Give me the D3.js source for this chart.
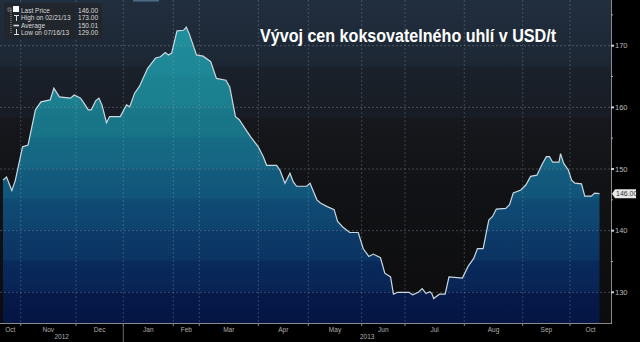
<!DOCTYPE html>
<html>
<head>
<meta charset="utf-8">
<script src="https://cdn.jsdelivr.net/npm/d3@7"></script>
<style>
  body { margin: 0; background: #000; }
  svg { display: block; }
  text { font-family: "Liberation Sans", Arial, sans-serif; }
</style>
</head>
<body>
<div id="chart"></div>
<script>
// price series (USD/t)
var dates = [
  "2012-10-22","2012-10-24","2012-10-27","2012-10-29","2012-11-02","2012-11-05","2012-11-09","2012-11-12",
  "2012-11-17","2012-11-19","2012-11-22","2012-11-28","2012-11-30","2012-12-04","2012-12-07","2012-12-09",
  "2012-12-11","2012-12-14","2012-12-16","2012-12-18","2012-12-21","2012-12-23","2012-12-30","2013-01-03",
  "2013-01-05","2013-01-08","2013-01-11","2013-01-16","2013-01-21","2013-01-24","2013-01-27","2013-01-29",
  "2013-01-31","2013-02-05","2013-02-12","2013-02-15","2013-02-18","2013-02-26","2013-03-03","2013-03-07",
  "2013-03-10","2013-03-15","2013-03-17","2013-03-20","2013-03-22","2013-03-25","2013-03-28","2013-03-30",
  "2013-04-01","2013-04-04","2013-04-06","2013-04-12","2013-04-14","2013-04-17","2013-04-20","2013-04-22",
  "2013-04-24","2013-04-30","2013-05-02","2013-05-06","2013-05-08","2013-05-12","2013-05-16","2013-05-18",
  "2013-05-21","2013-05-25","2013-05-30","2013-06-02","2013-06-06","2013-06-09","2013-06-14","2013-06-17",
  "2013-06-21","2013-06-23","2013-06-26","2013-07-03","2013-07-05","2013-07-08","2013-07-10","2013-07-12",
  "2013-07-14","2013-07-15","2013-07-16","2013-07-19","2013-07-22","2013-07-24","2013-07-31","2013-08-03",
  "2013-08-06","2013-08-08","2013-08-11","2013-08-14","2013-08-16","2013-08-18","2013-08-23","2013-08-25",
  "2013-08-27","2013-08-31","2013-09-03","2013-09-06","2013-09-10","2013-09-13","2013-09-16","2013-09-18",
  "2013-09-20","2013-09-24","2013-09-25","2013-09-27","2013-09-30","2013-10-02","2013-10-04","2013-10-08",
  "2013-10-10","2013-10-14","2013-10-16","2013-10-19"
];
var prices = [
  148.2,148.7,146.5,148.2,153.6,153.9,159.6,160.9,
  161.2,163.1,161.7,161.5,162.0,161.5,160.4,159.6,
  159.6,161.1,161.5,160.4,157.5,158.5,158.5,160.4,
  160.1,162.3,163.4,166.3,168.0,168.2,168.9,168.5,
  168.8,172.4,172.5,173.0,172.0,168.5,168.3,167.4,
  164.7,164.4,163.3,158.5,158.0,156.6,155.2,154.4,
  153.6,152.0,150.6,150.6,149.8,147.7,149.3,147.9,
  147.2,147.2,147.7,145.0,144.5,143.9,143.4,141.5,
  140.6,139.7,139.7,137.1,135.8,136.2,135.6,133.1,
  132.5,129.7,130.0,130.0,129.6,130.0,130.6,129.8,
  130.1,129.8,129.0,129.7,129.7,132.5,132.3,134.2,
  135.5,137.1,137.1,141.7,142.3,143.5,143.6,144.2,
  146.1,146.6,147.4,148.8,149.0,150.6,152.0,152.0,
  151.1,151.1,152.5,150.9,149.8,148.2,147.7,147.6,
  145.6,145.6,146.1,146.0
];

var monthStarts = ["2012-10-01","2012-11-01","2012-12-01","2013-01-01","2013-02-01","2013-03-01","2013-04-01",
  "2013-05-01","2013-06-01","2013-07-01","2013-08-01","2013-09-01","2013-10-01","2013-10-26"];
var monthLabels = ["Oct","Nov","Dec","Jan","Feb","Mar","Apr","May","Jun","Jul","Aug","Sep","Oct"];
var yearLabels = ["2012","2013"];
var yTicks = [130, 140, 150, 160, 170];
var yMinorTicks = [135, 145, 155, 165, 175];

var legendNames = ["Last Price", "High on 02/21/13", "Average", "Low on 07/16/13"];
var legendValues = ["146.00", "173.00", "150.01", "129.00"];
var lastLabel = "146.00";
var title = "Vývoj cen koksovatelného uhlí v USD/t";

var width = 640, height = 342;
var plotW = 611, plotH = 323;
// the source chart's month widths are uneven, so the time scale is piecewise
var monthEdgeX = [-34.3, 20.7, 76, 123.3, 173.3, 199.3, 258.3, 308.3, 361.7, 405, 464.3, 522.7, 570, 611];

var parse = d3.timeParse("%Y-%m-%d");
var data = dates.map(function(d, i){ return {date: parse(d), value: prices[i]}; });
var edges = monthStarts.map(parse);

var x = d3.scaleTime().domain(edges).range(monthEdgeX);
var y = d3.scaleLinear().domain([130, 170]).range([292.3, 45.7]);

var svg = d3.select('#chart').append('svg')
    .attr('width', width)
    .attr('height', height);

var defs = svg.append('defs');

var bg = defs.append('linearGradient')
    .attr('id', 'bg').attr('gradientUnits', 'userSpaceOnUse')
    .attr('x1', 0).attr('y1', 0).attr('x2', 0).attr('y2', plotH);
[[0, '#212e3e'], [0.2, '#1d2734'], [0.21, '#1a212b'], [0.36, '#181c24'], [0.37, '#16181d'],
 [0.55, '#121316'], [1, '#0c0c0e']].forEach(function(s){
  bg.append('stop').attr('offset', s[0]).attr('stop-color', s[1]);
});

// banded fill, one band per 5 USD like the Bloomberg original
var bandColors = ['#20909e', '#1f8a99', '#1c8393', '#197889', '#166b84', '#135c7e',
                  '#0f4b74', '#0c3a68', '#092a5c', '#061a4a'];
var fill = defs.append('linearGradient')
    .attr('id', 'fill').attr('gradientUnits', 'userSpaceOnUse')
    .attr('x1', 0).attr('y1', 0).attr('x2', 0).attr('y2', plotH);
bandColors.forEach(function(c, i){
  var top = i === 0 ? 0 : y(175 - i * 5);
  var bottom = Math.min(plotH, y(170 - i * 5));
  var next = bandColors[i + 1] || '#040e3a';
  fill.append('stop').attr('offset', top / plotH).attr('stop-color', c);
  fill.append('stop').attr('offset', (bottom - 2) / plotH)
      .attr('stop-color', d3.interpolateRgb(c, next)(0.4));
});

svg.append('rect').attr('width', width).attr('height', height).attr('fill', '#000');
svg.append('rect').attr('width', plotW).attr('height', plotH).attr('fill', 'url(#bg)');
svg.append('rect').attr('x', 133).attr('y', 0).attr('width', 26).attr('height', 1.5).attr('fill', '#4a6a86');

var area = d3.area()
    .x(function(d){ return x(d.date); })
    .y0(plotH)
    .y1(function(d){ return y(d.value); });

var line = d3.line()
    .x(function(d){ return x(d.date); })
    .y(function(d){ return y(d.value); });

svg.append('path').datum(data)
    .attr('d', area)
    .attr('fill', 'url(#fill)');

// grid
svg.append('g').selectAll('line').data(yTicks).enter().append('line')
    .attr('x1', 0).attr('x2', plotW)
    .attr('y1', function(d){ return y(d); }).attr('y2', function(d){ return y(d); })
    .attr('stroke', '#9aa8b4').attr('stroke-opacity', 0.35)
    .attr('stroke-dasharray', '2,2');

svg.append('g').selectAll('line').data(edges.slice(1, -1)).enter().append('line')
    .attr('x1', function(d){ return x(d); }).attr('x2', function(d){ return x(d); })
    .attr('y1', 0).attr('y2', plotH)
    .attr('stroke', '#9aa8b4').attr('stroke-opacity', 0.3)
    .attr('stroke-dasharray', '2,2');

svg.append('path').datum(data)
    .attr('d', line)
    .attr('fill', 'none')
    .attr('stroke', '#cbd8e0')
    .attr('stroke-width', 1.2);

// right axis
var yAxis = svg.append('g');
yAxis.append('line').attr('x1', plotW + 0.5).attr('x2', plotW + 0.5).attr('y1', 0).attr('y2', plotH + 1)
    .attr('stroke', '#8a8a8a');
yAxis.selectAll('rect.tick').data(yTicks).enter().append('rect')
    .attr('x', plotW).attr('y', function(d){ return y(d) - 1; })
    .attr('width', 3).attr('height', 2).attr('fill', '#cfcfcf');
yAxis.selectAll('rect.minor').data(yMinorTicks).enter().append('rect')
    .attr('x', plotW).attr('y', function(d){ return y(d) - 0.5; })
    .attr('width', 2).attr('height', 1).attr('fill', '#aaa');
yAxis.selectAll('text').data(yTicks).enter().append('text')
    .attr('x', plotW + 4).attr('y', function(d){ return y(d) + 2.5; })
    .attr('font-size', 7.5).attr('fill', '#b8b8b8')
    .text(function(d){ return d; });

// last price tag
var last = data[data.length - 1];
var tag = svg.append('g').attr('transform', 'translate(' + (plotW + 1) + ',' + y(last.value) + ')');
tag.append('path').attr('d', 'M0,0 L3,-4.5 L24,-4.5 L24,4.5 L3,4.5 Z').attr('fill', '#e8e8e8');
tag.append('text').attr('x', 4).attr('y', 2.6).attr('font-size', 7).attr('fill', '#333').text(lastLabel);

// bottom axis
var xAxis = svg.append('g');
xAxis.append('line').attr('x1', 0).attr('x2', plotW + 1).attr('y1', plotH + 0.5).attr('y2', plotH + 0.5)
    .attr('stroke', '#8a8a8a');
xAxis.selectAll('line.tick').data(edges.slice(1, -1)).enter().append('line')
    .attr('x1', function(d){ return x(d); }).attr('x2', function(d){ return x(d); })
    .attr('y1', plotH).attr('y2', plotH + 3)
    .attr('stroke', '#8a8a8a');
var yearStart = edges[3];
xAxis.append('line')
    .attr('x1', x(yearStart)).attr('x2', x(yearStart))
    .attr('y1', plotH).attr('y2', height)
    .attr('stroke', '#6a6a6a');

xAxis.selectAll('text.month').data(monthLabels).enter().append('text')
    .attr('x', function(d, i){
      var a = Math.max(0, x(edges[i])), b = Math.min(plotW, x(edges[i + 1]));
      return (a + b) / 2;
    })
    .attr('y', plotH + 8.5)
    .attr('text-anchor', 'middle').attr('font-size', 6.5).attr('fill', '#b0b0b0')
    .text(function(d){ return d; });

var yearSpans = [[0, x(yearStart)], [x(yearStart), plotW]];
xAxis.selectAll('text.year').data(yearLabels).enter().append('text')
    .attr('x', function(d, i){ return (yearSpans[i][0] + yearSpans[i][1]) / 2; })
    .attr('y', plotH + 16)
    .attr('text-anchor', 'middle').attr('font-size', 6.5).attr('fill', '#b0b0b0')
    .text(function(d){ return d; });

// legend
var lg = svg.append('g');
lg.append('rect').attr('x', 4).attr('y', 3).attr('width', 98).attr('height', 36)
    .attr('fill', '#22262d').attr('fill-opacity', 0.92);
lg.append('line').attr('x1', 11).attr('x2', 11).attr('y1', 10).attr('y2', 34)
    .attr('stroke', '#999').attr('stroke-dasharray', '1,1');
lg.append('rect').attr('x', 8).attr('y', 8).attr('width', 3).attr('height', 3)
    .attr('fill', 'none').attr('stroke', '#aaa').attr('stroke-width', 0.6);
lg.append('rect').attr('x', 13).attr('y', 6).attr('width', 6).attr('height', 6).attr('fill', '#fff');
lg.append('path').attr('d', 'M14,15.5 H19 M16.5,15.5 V21').attr('stroke', '#ddd').attr('stroke-width', 1);
lg.append('path').attr('d', 'M13.5,25.5 H19').attr('stroke', '#ddd').attr('stroke-width', 1.6);
lg.append('path').attr('d', 'M16.5,29 V34.5 M14,34.5 H19').attr('stroke', '#ddd').attr('stroke-width', 1);
lg.selectAll('text.name').data(legendNames).enter().append('text')
    .attr('x', 21).attr('y', function(d, i){ return 13 + i * 7.4; })
    .attr('font-size', 6.5).attr('fill', '#d8d8d8')
    .text(function(d){ return d; });
lg.selectAll('text.val').data(legendValues).enter().append('text')
    .attr('x', 98).attr('y', function(d, i){ return 13 + i * 7.4; })
    .attr('text-anchor', 'end').attr('font-size', 6.5).attr('fill', '#d8d8d8')
    .text(function(d){ return d; });

// title
svg.append('text')
    .attr('x', 260).attr('y', 42)
    .attr('font-family', '"Open Sans", Lato, sans-serif')
    .attr('font-weight', 600).attr('font-size', 17.5)
    .attr('textLength', 296).attr('lengthAdjust', 'spacingAndGlyphs')
    .attr('fill', '#ffffff')
    .text(title);
</script>
</body>
</html>
